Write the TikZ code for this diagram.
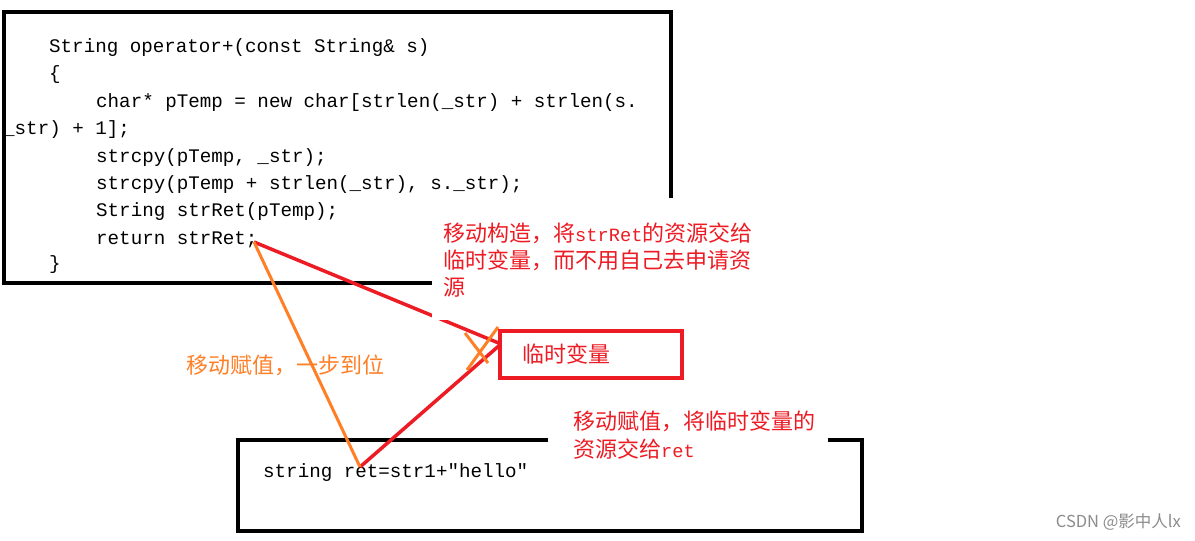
\documentclass[tikz,border=0pt]{standalone}
\usepackage{fontspec}
\setmonofont{Liberation Mono}
\newfontfamily\cjk{Noto Sans CJK SC}
\definecolor{mred}{RGB}{237,28,36}
\definecolor{morange}{RGB}{255,127,39}
\newcommand\codebit[1]{{\ttfamily\fontsize{18.7}{27}\selectfont #1}}

\begin{document}
\begin{tikzpicture}[x=1pt, y=-1pt,
        codeline/.style={anchor=base west, inner sep=0pt, font=\ttfamily\fontsize{19.2}{24}\selectfont},
        remark/.style={anchor=base west, inner sep=0pt, text=mred, font=\cjk\fontsize{22}{27}\selectfont},
        codebox/.style={draw, line width=4pt},
        tmpbox/.style={draw=mred, line width=3.5pt, anchor=west, minimum height=47pt, text width=136pt, inner xsep=23pt, align=left, text=mred, font=\cjk\fontsize{22}{27}\selectfont},
        redline/.style={draw=mred, line width=3.5pt},
        orangeline/.style={draw=morange, line width=3pt}]
    \path[use as bounding box, fill=white] (0,0) rectangle (1195,541);
    % function body
    \draw[codebox] (4,12) rectangle (671,283);
    \node[codeline] (c1) at (49,52) {String operator+(const String\& s)};
    \node[codeline] (c2) at (49,79) {\{};
    \node[codeline] (c3) at (96,107) {char* pTemp = new char[strlen(\_str) + strlen(s.};
    \node[codeline] (c4) at (3,134) {\_str) + 1];};
    \node[codeline] (c5) at (96,162) {strcpy(pTemp, \_str);};
    \node[codeline] (c6) at (96,189) {strcpy(pTemp + strlen(\_str), s.\_str);};
    \node[codeline] (c7) at (96,216) {String strRet(pTemp);};
    \node[codeline] (c8) at (96,244) {return strRet;};
    \node[codeline] (c9) at (49,269) {\}};
    % caller
    \draw[codebox] (238,440) rectangle (862,531);
    \node[codeline] (call) at (263,477) {string ret=str1+"hello"};
    \node[tmpbox] (tmp) at (498,354.5) {临时变量};
    \coordinate (rs) at (254,242);
    \coordinate (retpt) at (360,467);
    \coordinate (tmpin) at (501,344);
    \draw[redline] (rs) -- (tmpin);
    \draw[redline] (retpt) -- (tmpin);
    \draw[orangeline] (rs) -- (retpt);
    \draw[orangeline] (465,333) -- (488,363) (498,327) -- (467,370);
    % notes
    \fill[white] (432,198) rectangle (790,320);
    \fill[white] (548,400) rectangle (828,466);
    \node[remark] (n1) at (443,241) {移动构造，将\codebit{strRet}的资源交给};
    \node[remark] (n2) at (443,268) {临时变量，而不用自己去申请资};
    \node[remark] (n3) at (443,295) {源};
    \node[remark, text=morange] (n4) at (186,373) {移动赋值，一步到位};
    \node[remark] (n5) at (573,429) {移动赋值，将临时变量的};
    \node[remark] (n6) at (573,457) {资源交给\codebit{ret}};
    \node[anchor=east, inner sep=0pt, text=black!45, font=\cjk\fontsize{16.5}{20}\selectfont] (wm) at (1181,522) {CSDN @影中人lx};
\end{tikzpicture}
\end{document}
